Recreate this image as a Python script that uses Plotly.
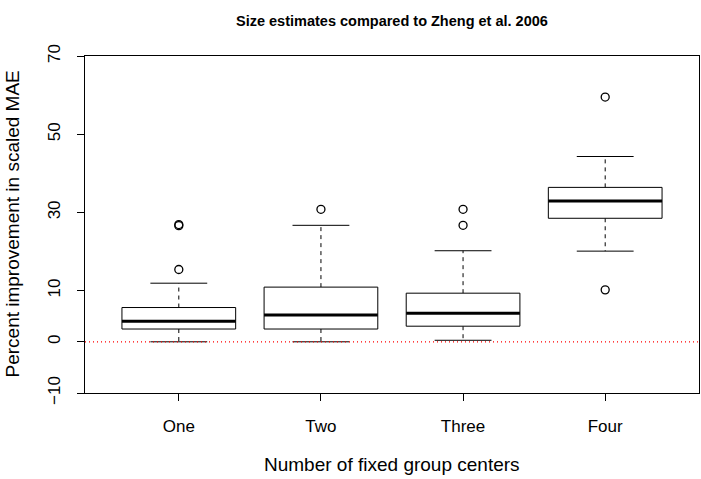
import plotly.graph_objects as go

# ---- data (values in the units shown on the axis labels) ----
groups = ["One", "Two", "Three", "Four"]
lower_whisker = [0.0, 0.0, 0.3, 20.1]
q1 = [2.5, 2.5, 3.05, 28.5]
median = [4.0, 5.25, 5.6, 32.9]
q3 = [6.7, 10.9, 9.5, 36.4]
upper_whisker = [11.9, 26.7, 20.2, 44.3]
outliers = [[15.4, 26.6, 26.9], [30.8], [26.7, 30.8], [59.5, 10.2]]
ytick_labels = [-10, 0, 10, 30, 50, 70]

# the printed axis is stretched below 10 (piecewise scale)
K = 1.309


def ypos(v):
    return v if v >= 10 else 10 - (10 - v) * K


BOXW = 0.4   # half box width
CAPW = 0.2   # half cap width

box_x, box_y = [], []
med_x, med_y = [], []
wh_x, wh_y = [], []
cap_x, cap_y = [], []
out_x, out_y = [], []
for i, g in enumerate(groups):
    c = i + 1
    box_x += [c - BOXW, c + BOXW, c + BOXW, c - BOXW, c - BOXW, None]
    box_y += [ypos(q1[i]), ypos(q1[i]), ypos(q3[i]), ypos(q3[i]), ypos(q1[i]), None]
    med_x += [c - BOXW, c + BOXW, None]
    med_y += [ypos(median[i])] * 2 + [None]
    wh_x += [c, c, None, c, c, None]
    wh_y += [ypos(q3[i]), ypos(upper_whisker[i]), None,
             ypos(q1[i]), ypos(lower_whisker[i]), None]
    cap_x += [c - CAPW, c + CAPW, None, c - CAPW, c + CAPW, None]
    cap_y += [ypos(upper_whisker[i])] * 2 + [None] + [ypos(lower_whisker[i])] * 2 + [None]
    for o in outliers[i]:
        out_x.append(c)
        out_y.append(ypos(o))

fig = go.Figure()
fig.add_trace(go.Scatter(x=wh_x, y=wh_y, mode="lines",
                         line=dict(color="black", width=1, dash="4px,4px"),
                         hoverinfo="skip"))
fig.add_trace(go.Scatter(x=cap_x, y=cap_y, mode="lines",
                         line=dict(color="black", width=1), hoverinfo="skip"))
fig.add_trace(go.Scatter(x=box_x, y=box_y, mode="lines", fill="toself",
                         fillcolor="white",
                         line=dict(color="black", width=1), hoverinfo="skip"))
fig.add_trace(go.Scatter(x=med_x, y=med_y, mode="lines",
                         line=dict(color="black", width=3), hoverinfo="skip"))
fig.add_trace(go.Scatter(x=out_x, y=out_y, mode="markers",
                         marker=dict(symbol="circle-open", size=8, color="black",
                                     line=dict(width=1.3, color="black"))))

fig.add_shape(type="line", xref="paper", x0=0, x1=1, yref="y",
              y0=ypos(0), y1=ypos(0),
              line=dict(color="#ff0000", width=1.2, dash="1px,3px"))

font = "Liberation Sans, Arial, sans-serif"
fig.update_layout(
    width=701, height=479,
    margin=dict(l=85, r=2, t=56, b=86),
    plot_bgcolor="white", paper_bgcolor="white",
    showlegend=False,
    font=dict(family=font, size=17, color="black"),
    xaxis=dict(range=[0.34, 4.66], tickvals=[1, 2, 3, 4], ticktext=groups,
               showgrid=False, zeroline=False, showline=True, mirror=True,
               linecolor="black", linewidth=1, ticks="outside", ticklen=7,
               tickcolor="black", ticklabelstandoff=11,
               tickfont=dict(size=17)),
    yaxis=dict(range=[ypos(-10), 70], tickvals=[ypos(v) for v in ytick_labels],
               ticktext=["\u221210" if v < 0 else str(v) for v in ytick_labels],
               tickangle=-90,
               showgrid=False, zeroline=False, showline=True, mirror=True,
               linecolor="black", linewidth=1, ticks="outside", ticklen=7,
               tickcolor="black", ticklabelstandoff=10,
               tickfont=dict(size=17)),
    annotations=[
        dict(text="<b>Size estimates compared to Zheng et al. 2006</b>",
             xref="paper", yref="paper", x=0.5, y=1, yshift=35,
             showarrow=False, font=dict(size=14.5), xanchor="center", yanchor="middle"),
        dict(text="Number of fixed group centers", xref="paper", yref="paper",
             x=0.5, y=0, yshift=-71, showarrow=False, xanchor="center",
             yanchor="middle", font=dict(size=19)),
        dict(text="Percent improvement in scaled MAE", xref="paper", yref="paper",
             x=0, y=0.5, xshift=-73, textangle=-90, showarrow=False,
             xanchor="center", yanchor="middle", font=dict(size=19)),
    ],
)

fig.write_html("out.html")
